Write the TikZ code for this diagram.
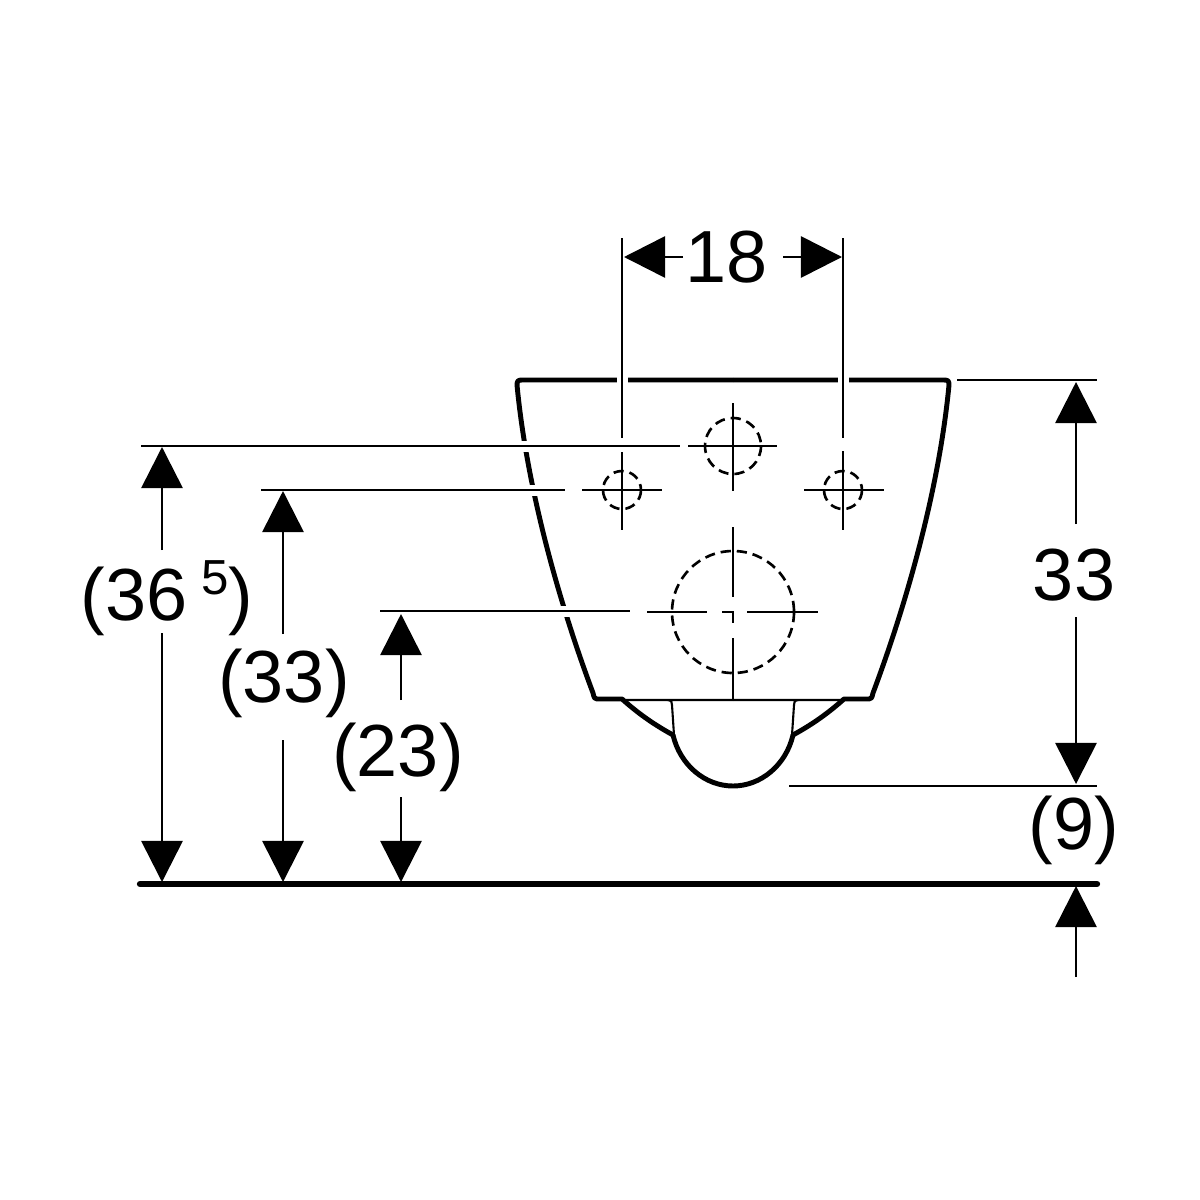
\documentclass[tikz,border=0pt]{standalone}
\usepackage{fontspec}
\setmainfont{Liberation Sans}
\usetikzlibrary{arrows.meta}
\tikzset{
  kont/.style={line width=1.4pt,line join=round},
  duenn/.style={line width=.75pt},
  hilfs/.style={duenn,preaction={draw=white,line width=.11cm}},
  mass/.style={duenn,-{Triangle[length=.41cm,width=.41cm]}},
  loch/.style={line width=.75pt,dash pattern=on 2.9pt off 1.7pt},
  zahl/.style={inner sep=0pt,font=\fontsize{21}{21}\selectfont},
}
\begin{document}
\begin{tikzpicture}[x=.01cm,y=-.01cm]
\useasboundingbox (0,0) rectangle (1200,1200);
% bowl outline, one half mirrored
\foreach \s in {1,-1} {\begin{scope}[shift={(733,0)},xscale=\s]
\draw[duenn,line width=.6pt] (0,700)--(-111,700) (-66,700) .. controls (-61,700) and (-61,703) .. (-61,705)--(-59,735);
\draw[kont] (0,380)--(-211,380) .. controls (-215,380) and (-216,381) .. (-216,385)
 .. controls (-206,490) and (-173,605) .. (-140,693) .. controls (-139,698) and (-138,699) .. (-136,699)
 --(-111,699) .. controls (-93,715) and (-78,725) .. (-60,735) .. controls (-53,765) and (-28,786) .. (0,786);
\end{scope}}
% extension lines
\foreach \a in {622,843} \draw[hilfs] (\a,238)--(\a,438) (\a,451)--(\a,530);
\draw[hilfs] (141,446)--(680,446);
\draw[hilfs] (261,490)--(565,490);
\draw[hilfs] (380,611)--(630,611);
\draw[hilfs] (957,380)--(1097,380);
\draw[hilfs] (789,786)--(1097,786);
\draw[line width=1.8pt,line cap=round] (140,884)--(1097,884);
% holes and centre lines
\draw[loch] (733,612) circle (61) (733,446) circle (28) (622,490) circle (19) (843,490) circle (19);
\draw[duenn] (688,446)--(777,446) (733,403)--(733,491);
\draw[duenn] (582,490)--(662,490) (804,490)--(884,490);
\draw[duenn] (647,612)--(707,612) (722,612)--(733,612)--(733,623) (747,612)--(818,612);
\draw[duenn] (733,527)--(733,597) (733,638)--(733,700);
% dimensions
\path (727,257) node[zahl] (n18) {18}
(167,598) node[zahl] (n36) {(36\hspace{.18em}\raisebox{.36em}{\fontsize{14}{14}\selectfont 5})}
(284,683) node[zahl] (n33) {(33)}
(398,757) node[zahl] (n23) {(23)}
(1074,575) node[zahl] (m33) {33}
(1074,830) node[zahl] (n9) {(9)}
(683,257) coordinate (bl) (624,257) coordinate (tl) (783,257) coordinate (br) (842,257) coordinate (tr)
(162,550) coordinate (a1) (162,447) coordinate (a2) (162,633) coordinate (a3) (162,882) coordinate (a4)
(283,634) coordinate (b1) (283,491) coordinate (b2) (283,740) coordinate (b3) (283,882) coordinate (b4)
(401,700) coordinate (c1) (401,614) coordinate (c2) (401,797) coordinate (c3) (401,882) coordinate (c4)
(1076,524) coordinate (d1) (1076,382) coordinate (d2) (1076,617) coordinate (d3) (1076,784) coordinate (d4)
(1076,977) coordinate (e1) (1076,886) coordinate (e2);
\foreach \d/\dd in {bl/tl,br/tr,a1/a2,a3/a4,b1/b2,b3/b4,c1/c2,c3/c4,d1/d2,d3/d4,e1/e2} \draw[mass] (\d)--(\dd);
\end{tikzpicture}
\end{document}
